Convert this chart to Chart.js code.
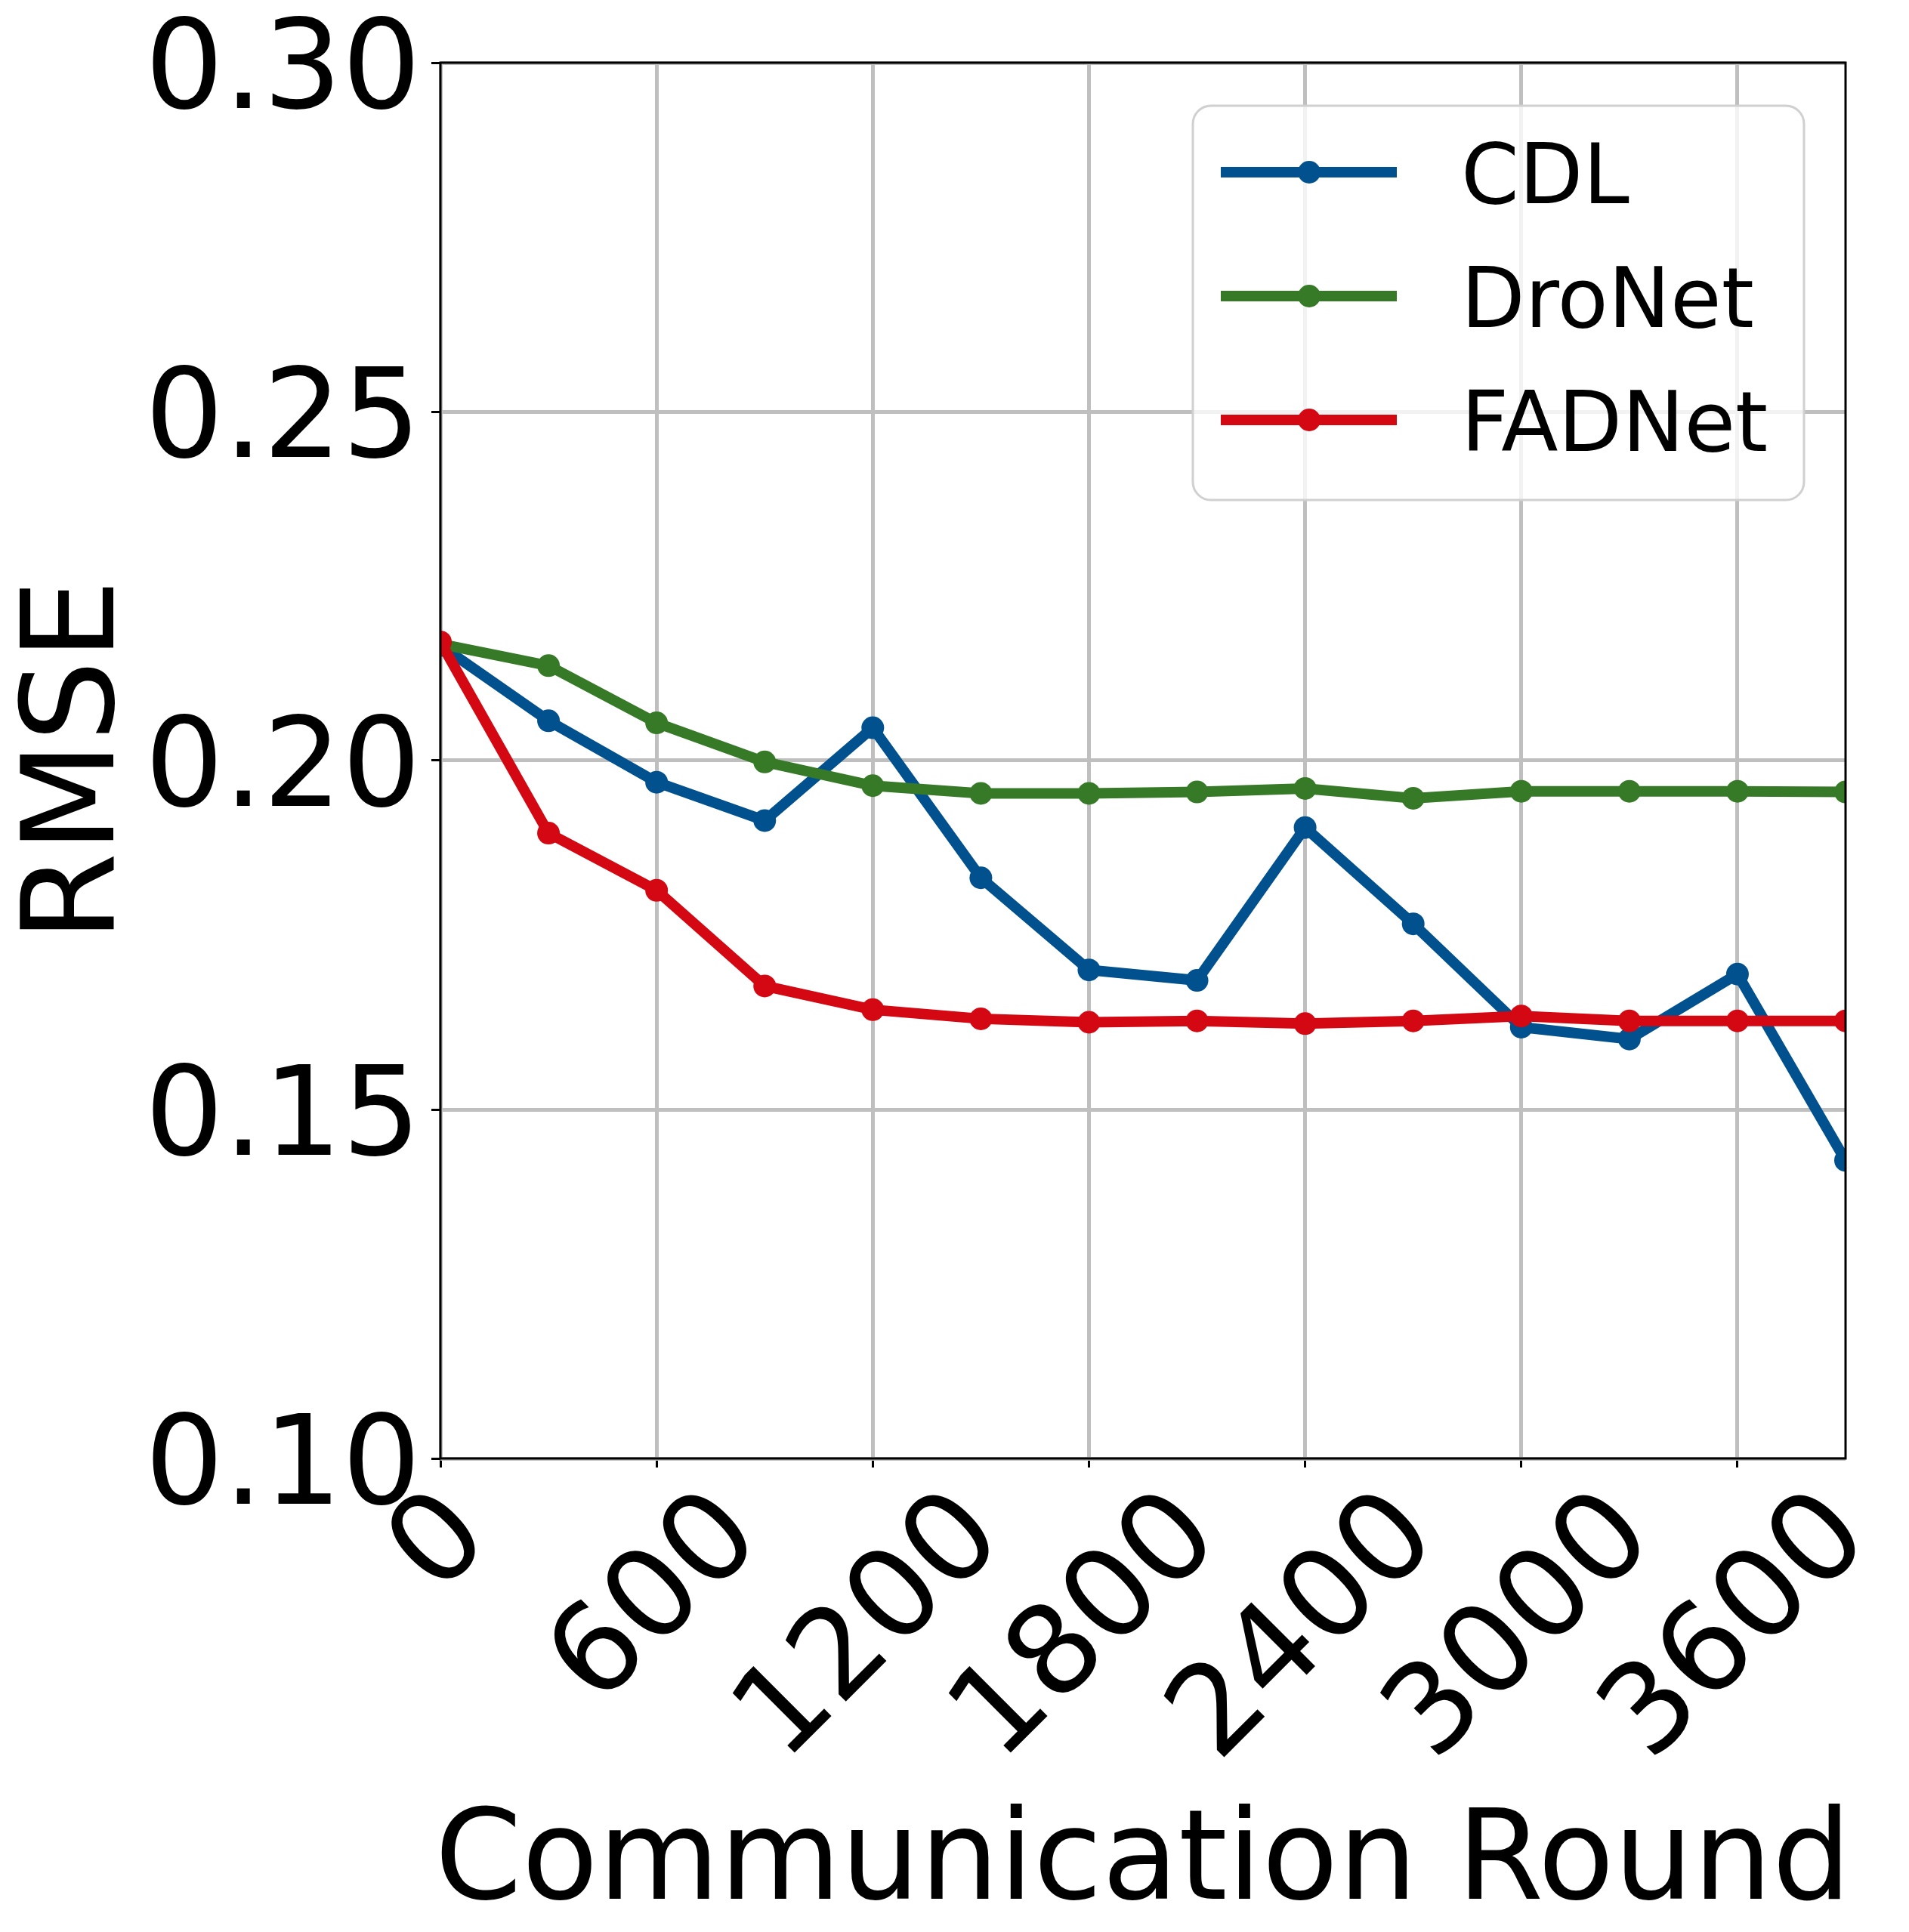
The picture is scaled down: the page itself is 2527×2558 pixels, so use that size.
<!DOCTYPE html>
<html>
<head>
<meta charset="utf-8">
<script src="https://cdn.jsdelivr.net/npm/chart.js@4/dist/chart.umd.min.js"></script>
<style>
  html, body { margin: 0; padding: 0; background: #fff; }
  #wrap { width: 2527px; height: 2558px; }
</style>
</head>
<body>
<div id="wrap"><canvas id="rmseChart" width="2527" height="2558"></canvas></div>
<script>
// Values
const rounds = [0, 300, 600, 900, 1200, 1500, 1800, 2100, 2400, 2700, 3000, 3300, 3600, 3900];
const cdl    = [0.2165, 0.2057, 0.1969, 0.1914, 0.2047, 0.1832, 0.1700, 0.1685, 0.1904, 0.1766, 0.1618, 0.1601, 0.1694, 0.1427];
const dronet = [0.2167, 0.2136, 0.2054, 0.1998, 0.1964, 0.1953, 0.1953, 0.1955, 0.1960, 0.1946, 0.1956, 0.1956, 0.1956, 0.1955];
const fadnet = [0.2170, 0.1896, 0.1814, 0.1677, 0.1643, 0.1630, 0.1625, 0.1627, 0.1623, 0.1627, 0.1634, 0.1627, 0.1627, 0.1627];
const seriesLabels = ['CDL', 'DroNet', 'FADNet'];
const xTicks = [0, 600, 1200, 1800, 2400, 3000, 3600];
const yTicks = [0.10, 0.15, 0.20, 0.25, 0.30];
const xTitle = 'Communication Round';

const FONT = "'DejaVu Sans', sans-serif";
const TICK_SIZE = 164;
const colors = ['#02518f', '#367a27', '#d40812'];

function toPoints(values) {
    return values.map((v, i) => ({ x: rounds[i], y: v }));
}

// x tick labels rotated 45deg, centred under the tick (matplotlib style),
// plus the x title, which Chart.js would squeeze to the plot width
const xLabelPlugin = {
    id: 'xLabels',
    afterDraw(chart) {
        const ctx = chart.ctx;
        const xs = chart.scales.x;
        ctx.save();
        ctx.fillStyle = '#000';
        ctx.font = `${TICK_SIZE}px ${FONT}`;
        xs.ticks.forEach(t => {
            const label = String(t.value);
            const m = ctx.measureText(label);
            const w = m.actualBoundingBoxLeft + m.actualBoundingBoxRight;
            const h = m.actualBoundingBoxAscent + m.actualBoundingBoxDescent;
            const half = (w + h) * Math.SQRT1_2 / 2;
            const cx = xs.getPixelForValue(t.value) - 10;
            const cy = xs.top + 30 + half;
            ctx.save();
            ctx.translate(cx, cy);
            ctx.rotate(-Math.PI / 4);
            ctx.textAlign = 'left';
            ctx.textBaseline = 'alphabetic';
            const dx = -(m.actualBoundingBoxRight - m.actualBoundingBoxLeft) / 2;
            const dy = (m.actualBoundingBoxAscent - m.actualBoundingBoxDescent) / 2;
            ctx.fillText(label, dx, dy);
            ctx.restore();
        });

        ctx.font = `165px ${FONT}`;
        ctx.textAlign = 'center';
        ctx.textBaseline = 'alphabetic';
        ctx.fillText(xTitle, (xs.left + xs.right) / 2, 2514);
        ctx.restore();
    }
};

// Frame round the plot area, drawn above the lines like matplotlib spines
const framePlugin = {
    id: 'frame',
    afterDatasetsDraw(chart) {
        const { ctx, chartArea: a } = chart;
        ctx.save();
        ctx.strokeStyle = '#000';
        ctx.lineWidth = 3;
        ctx.strokeRect(a.left, a.top, a.right - a.left, a.bottom - a.top);
        ctx.restore();
    }
};

// Legend box with line + marker samples
const legendPlugin = {
    id: 'boxLegend',
    afterDraw(chart) {
        const ctx = chart.ctx;
        const box = { x: 1579, y: 140, w: 809, h: 522 };
        ctx.save();
        ctx.beginPath();
        ctx.roundRect(box.x, box.y, box.w, box.h, 24);
        ctx.fillStyle = 'rgba(255,255,255,0.8)';
        ctx.fill();
        ctx.strokeStyle = '#d0d0d0';
        ctx.lineWidth = 3;
        ctx.stroke();

        ctx.font = `110px ${FONT}`;
        ctx.textAlign = 'left';
        ctx.textBaseline = 'alphabetic';
        chart.data.datasets.forEach((ds, i) => {
            const y = 228 + i * 164;
            ctx.strokeStyle = ds.borderColor;
            ctx.lineWidth = 14;
            ctx.beginPath();
            ctx.moveTo(1616, y);
            ctx.lineTo(1849, y);
            ctx.stroke();
            ctx.fillStyle = ds.borderColor;
            ctx.beginPath();
            ctx.arc(1733, y, 15, 0, Math.PI * 2);
            ctx.fill();
            ctx.fillStyle = '#000';
            const m = ctx.measureText(ds.label);
            ctx.fillText(ds.label, 1934, y + m.actualBoundingBoxAscent / 2);
        });
        ctx.restore();
    }
};

function makeDataset(label, values, color, order) {
    return {
        label: label,
        data: toPoints(values),
        borderColor: color,
        backgroundColor: color,
        borderWidth: 14,
        pointRadius: 15,
        pointHoverRadius: 15,
        pointBorderWidth: 0,
        pointBackgroundColor: color,
        tension: 0,
        fill: false,
        clip: 0,
        order: order
    };
}

document.addEventListener('DOMContentLoaded', () => {
    const ctx = document.getElementById('rmseChart').getContext('2d');
    Chart.defaults.font.family = FONT;
    Chart.defaults.color = '#000';

    new Chart(ctx, {
        type: 'line',
        data: {
            datasets: [
                makeDataset(seriesLabels[0], cdl, colors[0], 2),
                makeDataset(seriesLabels[1], dronet, colors[1], 1),
                makeDataset(seriesLabels[2], fadnet, colors[2], 0)
            ]
        },
        options: {
            responsive: false,
            devicePixelRatio: 1,
            animation: false,
            layout: { padding: { top: 83, right: 84, left: 0, bottom: 0 } },
            plugins: {
                legend: { display: false },
                tooltip: { enabled: false }
            },
            scales: {
                x: {
                    type: 'linear',
                    min: 0,
                    max: 3900,
                    afterBuildTicks: s => { s.ticks = xTicks.map(v => ({ value: v })); },
                    afterFit: s => { s.height = 2558 - 1931; s.paddingLeft = 0; s.paddingRight = 0; },
                    ticks: { display: false },
                    grid: {
                        color: '#bfbfbf',
                        lineWidth: 5,
                        drawTicks: true,
                        tickLength: 12,
                        tickColor: '#000',
                        tickWidth: 3
                    },
                    border: { display: false },
                    title: { display: false }
                },
                y: {
                    min: 0.10,
                    max: 0.30,
                    afterBuildTicks: s => { s.ticks = yTicks.map(v => ({ value: v })); },
                    afterFit: s => { s.width = 583; s.paddingTop = 0; s.paddingBottom = 0; },
                    ticks: {
                        color: '#000',
                        font: { size: TICK_SIZE },
                        padding: 14,
                        labelOffset: 17,
                        callback: v => Number(v).toFixed(2)
                    },
                    grid: {
                        color: '#bfbfbf',
                        lineWidth: 5,
                        drawTicks: true,
                        tickLength: 12,
                        tickColor: '#000',
                        tickWidth: 3
                    },
                    border: { display: false },
                    title: {
                        display: true,
                        text: 'RMSE',
                        color: '#000',
                        font: { size: 170, lineHeight: 1.25 },
                        padding: { top: 0, bottom: 0 }
                    }
                }
            }
        },
        plugins: [framePlugin, xLabelPlugin, legendPlugin]
    });
});
</script>
</body>
</html>
